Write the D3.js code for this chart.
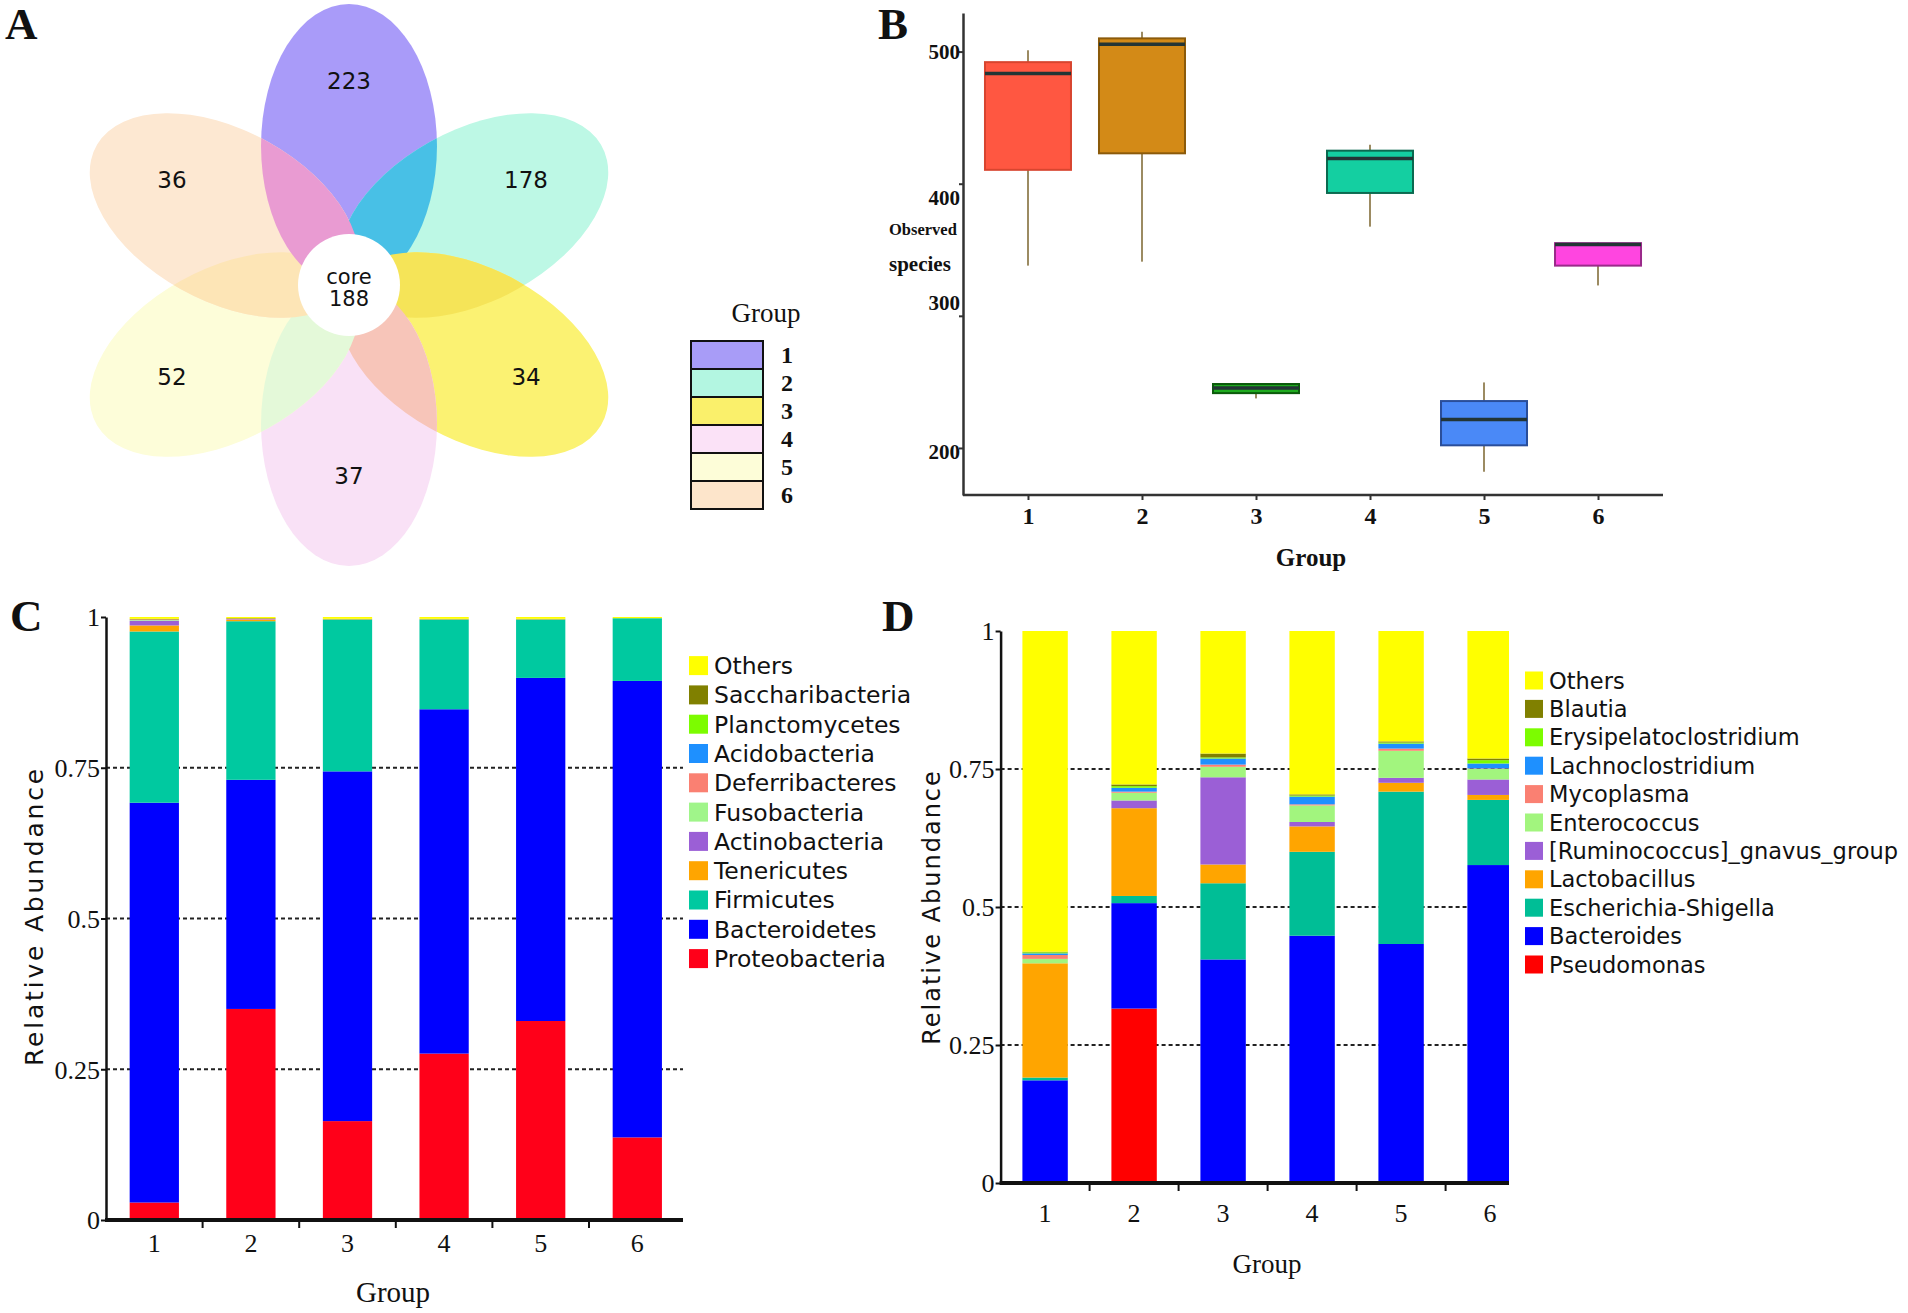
<!DOCTYPE html>
<html>
<head>
<meta charset="utf-8">
<script src="https://cdn.jsdelivr.net/npm/d3@7"></script>
<style>
  html, body { margin: 0; padding: 0; background: #ffffff; }
  svg { display: block; }
</style>
</head>
<body>
<svg id="fig" width="1908" height="1313"></svg>
<script>
// ------------------------------------------------------------------
// DATA
// ------------------------------------------------------------------
// Panel A : flower (Venn) diagram
const vennGroups = ["1", "2", "3", "4", "5", "6"];
const vennUnique = [223, 178, 34, 37, 52, 36];
const vennCoreLabel = "core";
const vennCoreCount = 188;

// Panel B : box plot of observed species
const boxGroups = ["1", "2", "3", "4", "5", "6"];
const boxMin    = [338, 341, 237.5, 367.5, 182, 323];
const boxQ1     = [410.5, 423, 241.5, 393, 202, 338];
const boxMedian = [483.5, 505.5, 245.3, 419, 221.6, 354];
const boxQ3     = [492, 510, 248.4, 425, 235.5, 355];
const boxMax    = [501, 515, 248.4, 429.5, 249.6, 355.5];
const boxYTicks = [200, 300, 400, 500];

// Panels C and D : relative abundance
const abundanceGroups = ["1", "2", "3", "4", "5", "6"];
const abundanceTicks = [0, 0.25, 0.5, 0.75, 1];
const abundanceTickLabels = ["0", "0.25", "0.5", "0.75", "1"];
const abundanceGridTicks = [0.25, 0.5, 0.75];

// Panel C : phylum level (bottom -> top)
const phylumTaxa = ["Proteobacteria", "Bacteroidetes", "Firmicutes", "Tenericutes", "Actinobacteria",
  "Fusobacteria", "Deferribacteres", "Acidobacteria", "Planctomycetes", "Saccharibacteria", "Others"];
const proteobacteria   = [0.029, 0.350, 0.164, 0.276, 0.330, 0.137];
const bacteroidetes    = [0.663, 0.380, 0.580, 0.571, 0.569, 0.757];
const firmicutes       = [0.284, 0.263, 0.252, 0.149, 0.097, 0.104];
const tenericutes      = [0.010, 0.002, 0.001, 0.001, 0.001, 0.000];
const actinobacteria   = [0.008, 0.001, 0.000, 0.000, 0.000, 0.000];
const fusobacteria     = [0.001, 0.000, 0.000, 0.000, 0.000, 0.000];
const deferribacteres  = [0.001, 0.001, 0.000, 0.000, 0.000, 0.000];
const acidobacteria    = [0.000, 0.000, 0.000, 0.000, 0.000, 0.000];
const planctomycetes   = [0.000, 0.000, 0.000, 0.000, 0.000, 0.000];
const saccharibacteria = [0.001, 0.001, 0.000, 0.000, 0.000, 0.000];
const phylumOthers     = [0.003, 0.002, 0.003, 0.003, 0.003, 0.002];
const phylumValues = [proteobacteria, bacteroidetes, firmicutes, tenericutes, actinobacteria,
  fusobacteria, deferribacteres, acidobacteria, planctomycetes, saccharibacteria, phylumOthers];

// Panel D : genus level (bottom -> top)
const genusTaxa = ["Pseudomonas", "Bacteroides", "Escherichia-Shigella", "Lactobacillus",
  "[Ruminococcus]_gnavus_group", "Enterococcus", "Mycoplasma", "Lachnoclostridium",
  "Erysipelatoclostridium", "Blautia", "Others"];
const pseudomonas       = [0.000, 0.316, 0.000, 0.000, 0.000, 0.000];
const bacteroides       = [0.186, 0.191, 0.405, 0.448, 0.433, 0.576];
const escherichia       = [0.005, 0.013, 0.138, 0.152, 0.276, 0.118];
const lactobacillus     = [0.207, 0.159, 0.034, 0.046, 0.016, 0.009];
const ruminococcus      = [0.000, 0.014, 0.158, 0.008, 0.009, 0.028];
const enterococcus      = [0.008, 0.014, 0.019, 0.030, 0.049, 0.019];
const mycoplasma        = [0.007, 0.002, 0.004, 0.002, 0.004, 0.001];
const lachnoclostridium = [0.003, 0.007, 0.011, 0.014, 0.009, 0.009];
const erysipelato       = [0.002, 0.003, 0.002, 0.002, 0.002, 0.006];
const blautia           = [0.001, 0.003, 0.007, 0.002, 0.002, 0.003];
const genusOthers       = [0.581, 0.278, 0.222, 0.296, 0.200, 0.231];
const genusValues = [pseudomonas, bacteroides, escherichia, lactobacillus, ruminococcus,
  enterococcus, mycoplasma, lachnoclostridium, erysipelato, blautia, genusOthers];

// ------------------------------------------------------------------
// STYLES
// ------------------------------------------------------------------
const petalColors   = ["#a99bf9", "#bdf8e5", "#fbf272", "#f9e1f6", "#fdfdd9", "#fde8d2"];
const overlapColors = ["#48c0e6", "#f5e458", "#f7c5b9", "#e4f9d9", "#fde5b6", "#e99bd2"];
const legendAColors = ["#a89cf7", "#b3f6e1", "#faf06b", "#fbe2f7", "#fdfdd8", "#fde5cb"];
const boxFill   = ["#ff5741", "#d38a17", "#1eab1e", "#14cfa1", "#4a89f7", "#ff45e0"];
const boxStroke = ["#d8452f", "#8b5a0a", "#0c5a0c", "#0b6a50", "#2a4e9a", "#9a2a8a"];
const phylumColors = ["#ff0019", "#0000ff", "#00c9a0", "#ffa500", "#9b5fd6", "#a0f58a",
  "#fa8072", "#1e90ff", "#7cfc00", "#808000", "#ffff00"];
const genusColors = ["#ff0000", "#0000ff", "#00be96", "#ffa500", "#9b5fd6", "#a2f57e",
  "#fa8072", "#1e90ff", "#7cfc00", "#808000", "#ffff00"];

const SERIF = "'Liberation Serif', 'Times New Roman', serif";
const SANS = "'DejaVu Sans', Verdana, sans-serif";

const svg = d3.select("#fig");
const defs = svg.append("defs");

// ------------------------------------------------------------------
// Panel letters
// ------------------------------------------------------------------
const panelLetters = ["A", "B", "C", "D"];
const letterPos = [[5, 39], [878, 39], [10, 631], [882, 631]];
svg.selectAll("text.panel-letter").data(panelLetters).join("text")
  .attr("class", "panel-letter")
  .attr("x", (d, i) => letterPos[i][0]).attr("y", (d, i) => letterPos[i][1])
  .attr("font-family", SERIF).attr("font-weight", "bold").attr("font-size", 45)
  .attr("fill", "#111").text(d => d);

// ------------------------------------------------------------------
// Panel A : flower diagram
// ------------------------------------------------------------------
(function () {
  const cx = 349, cy = 285, sx = 1.035;
  const pd = 139, prx = 85, pry = 142;
  const angle = d3.scaleLinear().domain([0, vennGroups.length]).range([0, 360]);

  vennGroups.forEach((g, i) => {
    defs.append("clipPath").attr("id", "petal-clip-" + i)
      .append("ellipse")
      .attr("cx", 0).attr("cy", -pd).attr("rx", prx).attr("ry", pry)
      .attr("transform", `rotate(${angle(i)})`);
  });

  const flower = svg.append("g").attr("transform", `translate(${cx},${cy}) scale(${sx},1)`);
  flower.selectAll("ellipse.petal").data(vennGroups).join("ellipse")
    .attr("class", "petal")
    .attr("cx", 0).attr("cy", -pd).attr("rx", prx).attr("ry", pry)
    .attr("transform", (d, i) => `rotate(${angle(i)})`)
    .attr("fill", (d, i) => petalColors[i]);

  vennGroups.forEach((g, i) => {
    const j = (i + 1) % vennGroups.length;
    flower.append("g").attr("clip-path", `url(#petal-clip-${j})`)
      .append("ellipse")
      .attr("cx", 0).attr("cy", -pd).attr("rx", prx).attr("ry", pry)
      .attr("transform", `rotate(${angle(i)})`)
      .attr("fill", overlapColors[i]);
  });

  // core
  svg.append("circle").attr("cx", cx).attr("cy", cy).attr("r", 51).attr("fill", "#ffffff");
  svg.append("text").attr("x", cx).attr("y", cy - 1).attr("text-anchor", "middle")
    .attr("font-family", SANS).attr("font-size", 21).attr("fill", "#111").text(vennCoreLabel);
  svg.append("text").attr("x", cx).attr("y", cy + 21).attr("text-anchor", "middle")
    .attr("font-family", SANS).attr("font-size", 21).attr("fill", "#111").text(vennCoreCount);

  // unique counts
  const lr = 197.5, lcy = cy - 7;
  svg.selectAll("text.venn-count").data(vennUnique).join("text")
    .attr("class", "venn-count")
    .attr("x", (d, i) => cx + sx * lr * Math.sin(angle(i) * Math.PI / 180))
    .attr("y", (d, i) => lcy - lr * Math.cos(angle(i) * Math.PI / 180))
    .attr("dy", "0.36em")
    .attr("text-anchor", "middle")
    .attr("font-family", SANS).attr("font-size", 23).attr("fill", "#111")
    .text(d => d);

  // legend
  const lg = svg.append("g");
  lg.append("text").attr("x", 766).attr("y", 322).attr("text-anchor", "middle")
    .attr("font-family", SERIF).attr("font-size", 27).attr("fill", "#111").text("Group");
  const ly = d3.scaleBand().domain(vennGroups).range([341, 509]);
  lg.selectAll("rect").data(vennGroups).join("rect")
    .attr("x", 691).attr("y", d => ly(d)).attr("width", 72).attr("height", ly.bandwidth())
    .attr("fill", (d, i) => legendAColors[i]).attr("stroke", "#111").attr("stroke-width", 2);
  lg.selectAll("text.lg").data(vennGroups).join("text")
    .attr("class", "lg")
    .attr("x", 781).attr("y", d => ly(d) + ly.bandwidth() / 2).attr("dy", "0.35em")
    .attr("font-family", SERIF).attr("font-weight", "bold").attr("font-size", 24)
    .attr("fill", "#111").text(d => d);
})();

// ------------------------------------------------------------------
// Panel B : box plot
// ------------------------------------------------------------------
(function () {
  const x0 = 963, x1 = 1663, yBottom = 495, yTop = 13;
  const y = d3.scaleLinear().domain([164.4, 529.2]).range([yBottom, yTop]);
  const x = d3.scalePoint().domain(boxGroups).range([x0, x1]).padding(0.57);
  const bw = 86;
  const g = svg.append("g");

  boxGroups.forEach((grp, i) => {
    const c = x(grp);
    g.append("line").attr("x1", c).attr("x2", c)
      .attr("y1", y(boxMax[i])).attr("y2", y(boxQ3[i]))
      .attr("stroke", "#9c8b62").attr("stroke-width", 2);
    g.append("line").attr("x1", c).attr("x2", c)
      .attr("y1", y(boxQ1[i])).attr("y2", y(boxMin[i]))
      .attr("stroke", "#9c8b62").attr("stroke-width", 2);
    g.append("rect").attr("x", c - bw / 2).attr("y", y(boxQ3[i]))
      .attr("width", bw).attr("height", y(boxQ1[i]) - y(boxQ3[i]))
      .attr("fill", boxFill[i]).attr("stroke", boxStroke[i]).attr("stroke-width", 2);
    g.append("line").attr("x1", c - bw / 2).attr("x2", c + bw / 2)
      .attr("y1", y(boxMedian[i])).attr("y2", y(boxMedian[i]))
      .attr("stroke", "#233535").attr("stroke-width", 3.5);
  });

  // y axis
  const labelNudge = { 200: 4, 300: -13, 400: 14, 500: 0 };
  const ax = g.append("g").attr("transform", `translate(${x0},0)`)
    .call(d3.axisLeft(y).tickValues(boxYTicks).tickSize(4).tickSizeOuter(0).tickFormat(d3.format("d")));
  ax.select(".domain").attr("stroke", "#333").attr("stroke-width", 2.5);
  ax.selectAll(".tick line").attr("stroke", "#333").attr("stroke-width", 2);
  ax.selectAll(".tick text")
    .attr("x", -3)
    .attr("dy", d => (7 + labelNudge[d]) + "px")
    .attr("font-family", SERIF).attr("font-weight", "bold").attr("font-size", 21).attr("fill", "#111");

  // x axis
  g.append("line").attr("x1", x0).attr("x2", x1).attr("y1", yBottom).attr("y2", yBottom)
    .attr("stroke", "#333").attr("stroke-width", 2.5);
  const axX = g.append("g").attr("transform", `translate(0,${yBottom})`)
    .call(d3.axisBottom(x).tickSize(5).tickSizeOuter(0));
  axX.select(".domain").remove();
  axX.selectAll(".tick line").attr("stroke", "#333").attr("stroke-width", 2);
  axX.selectAll(".tick text").attr("y", 29).attr("dy", "0")
    .attr("font-family", SERIF).attr("font-weight", "bold").attr("font-size", 24).attr("fill", "#111");

  g.append("text").attr("x", 1311).attr("y", 566).attr("text-anchor", "middle")
    .attr("font-family", SERIF).attr("font-weight", "bold").attr("font-size", 25)
    .attr("fill", "#111").text("Group");
  g.append("text").attr("x", 889).attr("y", 235)
    .attr("font-family", SERIF).attr("font-weight", "bold").attr("font-size", 16.5)
    .attr("fill", "#111").text("Observed");
  g.append("text").attr("x", 889).attr("y", 271)
    .attr("font-family", SERIF).attr("font-weight", "bold").attr("font-size", 21)
    .attr("fill", "#111").text("species");
})();

// ------------------------------------------------------------------
// Panels C and D : stacked bars
// ------------------------------------------------------------------
function drawStacked(o) {
  const g = svg.append("g");
  const y = d3.scaleLinear().domain([0, 1]).range([o.yBottom, o.yTop]);
  const x = d3.scaleBand().domain(abundanceGroups).range([o.x0, o.x0 + o.step * abundanceGroups.length]);
  const barW = x.bandwidth() * 0.51;
  const off = (x.bandwidth() - barW) / 2;

  const rows = abundanceGroups.map((grp, gi) => {
    const r = { group: grp };
    o.taxa.forEach((t, ti) => { r[t] = o.values[ti][gi]; });
    return r;
  });
  const stacked = d3.stack().keys(o.taxa)(rows);

  // grid lines
  g.selectAll("line.grid").data(abundanceGridTicks).join("line")
    .attr("class", "grid")
    .attr("x1", o.x0).attr("x2", o.xEnd)
    .attr("y1", d => y(d)).attr("y2", d => y(d))
    .attr("stroke", "#222").attr("stroke-width", 2).attr("stroke-dasharray", "4,3");

  defs.append("clipPath").attr("id", o.clipId).append("rect")
    .attr("x", o.x0).attr("y", o.yTop - 5).attr("width", o.xEnd - o.x0).attr("height", o.yBottom - o.yTop + 10);

  const bars = g.append("g").attr("clip-path", `url(#${o.clipId})`);
  bars.selectAll("g.layer").data(stacked).join("g")
    .attr("class", "layer")
    .attr("fill", (d, i) => o.colors[i])
    .selectAll("rect").data(d => d).join("rect")
    .attr("x", d => x(d.data.group) + off)
    .attr("width", barW)
    .attr("y", d => y(d[1]))
    .attr("height", d => Math.max(0, y(d[0]) - y(d[1])));

  // y axis
  const ax = g.append("g").attr("transform", `translate(${o.x0},0)`)
    .call(d3.axisLeft(y).tickValues(abundanceTicks).tickSize(5).tickSizeOuter(0)
      .tickFormat((d, i) => abundanceTickLabels[i]));
  ax.select(".domain").attr("stroke", "#111").attr("stroke-width", 2.5);
  ax.selectAll(".tick line").attr("stroke", "#111").attr("stroke-width", 2);
  ax.selectAll(".tick text").attr("x", -6).attr("dy", "0.34em")
    .attr("font-family", SERIF).attr("font-size", 26).attr("fill", "#111");

  // x axis
  g.append("line").attr("x1", o.x0 - 1).attr("x2", o.xEnd).attr("y1", o.yBottom).attr("y2", o.yBottom)
    .attr("stroke", "#111").attr("stroke-width", 4);
  g.selectAll("line.xtick").data(abundanceGroups.slice(1)).join("line")
    .attr("class", "xtick")
    .attr("x1", d => x(d)).attr("x2", d => x(d))
    .attr("y1", o.yBottom).attr("y2", o.yBottom + 8)
    .attr("stroke", "#111").attr("stroke-width", 2);
  g.selectAll("text.xlab").data(abundanceGroups).join("text")
    .attr("class", "xlab")
    .attr("x", d => x(d) + x.bandwidth() / 2).attr("y", o.xLabelY)
    .attr("text-anchor", "middle")
    .attr("font-family", SERIF).attr("font-size", 26).attr("fill", "#111").text(d => d);

  g.append("text").attr("x", o.groupX).attr("y", o.groupY).attr("text-anchor", "middle")
    .attr("font-family", SERIF).attr("font-size", o.groupSize).attr("fill", "#111").text("Group");

  g.append("text")
    .attr("transform", `translate(${o.yTitleX},${o.yTitleY}) rotate(-90)`)
    .attr("text-anchor", "middle").attr("dominant-baseline", "central")
    .attr("font-family", SANS).attr("font-size", o.yTitleSize)
    .attr("letter-spacing", o.yTitleSpacing)
    .attr("fill", "#111").text("Relative Abundance");

  // legend (top = last taxon)
  const legendTaxa = o.taxa.slice().reverse();
  const legendColors = o.colors.slice().reverse();
  const ly = d3.scalePoint().domain(legendTaxa).range([o.legendY0, o.legendY0 + o.legendStep * (legendTaxa.length - 1)]);
  const lg = g.append("g");
  lg.selectAll("rect").data(legendTaxa).join("rect")
    .attr("x", o.legendX).attr("y", d => ly(d) - o.legendBox / 2)
    .attr("width", o.legendBox).attr("height", o.legendBox)
    .attr("fill", (d, i) => legendColors[i]);
  lg.selectAll("text").data(legendTaxa).join("text")
    .attr("x", o.legendX + o.legendBox + 6).attr("y", d => ly(d)).attr("dy", "0.36em")
    .attr("font-family", SANS).attr("font-size", o.legendFont).attr("fill", "#111")
    .text(d => d);
}

drawStacked({
  taxa: phylumTaxa, values: phylumValues, colors: phylumColors,
  x0: 106, step: 96.6, xEnd: 683, yTop: 617, yBottom: 1220, clipId: "clipC",
  xLabelY: 1252, groupX: 393, groupY: 1302, groupSize: 29,
  yTitleX: 34, yTitleY: 916, yTitleSize: 25, yTitleSpacing: 2.8,
  legendX: 689, legendY0: 665.6, legendStep: 29.3, legendBox: 19, legendFont: 23.5
});

drawStacked({
  taxa: genusTaxa, values: genusValues, colors: genusColors,
  x0: 1000.6, step: 89, xEnd: 1509, yTop: 631, yBottom: 1183, clipId: "clipD",
  xLabelY: 1222, groupX: 1267, groupY: 1273, groupSize: 27,
  yTitleX: 932, yTitleY: 907, yTitleSize: 24, yTitleSpacing: 2,
  legendX: 1525, legendY0: 680.5, legendStep: 28.4, legendBox: 18, legendFont: 22.5
});
</script>
</body>
</html>
